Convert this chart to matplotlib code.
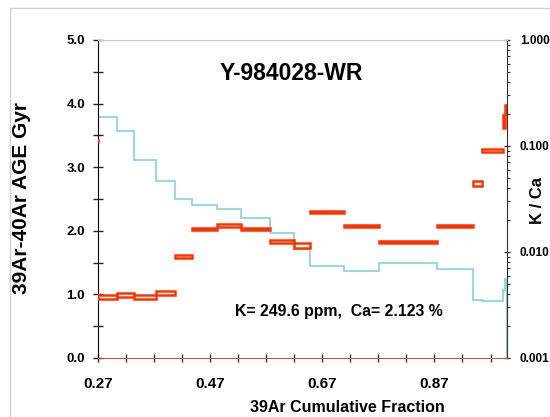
import matplotlib
matplotlib.use("Agg")
import matplotlib.pyplot as plt
from matplotlib.patches import Rectangle
from matplotlib.ticker import MultipleLocator, FixedLocator, LogLocator, NullFormatter
import numpy as np

plt.rcParams['font.family'] = ['Liberation Sans', 'DejaVu Sans']
plt.rcParams['font.weight'] = 'bold'

# step edges (39Ar cumulative fraction), first step is only partly inside the plot
frac_edges = [0.24, 0.270, 0.303, 0.334, 0.373, 0.407, 0.437, 0.482, 0.525, 0.577,
              0.619, 0.648, 0.709, 0.771, 0.874, 0.938, 0.955, 0.993, 0.996, 1.000]
ages = [3.41, 0.96, 0.99, 0.96, 1.02, 1.59, 2.03, 2.08, 2.03, 1.83,
        1.77, 2.30, 2.07, 1.82, 2.08, 2.75, 3.26, 3.72, 3.90]
age_err = [0.02, 0.025, 0.028, 0.025, 0.031, 0.022, 0.013, 0.019, 0.017, 0.025,
           0.033, 0.017, 0.017, 0.017, 0.017, 0.039, 0.025, 0.104, 0.070]
k_ca = [0.0005, 0.188, 0.139, 0.0745, 0.0465, 0.0316, 0.0275, 0.0252, 0.0209, 0.0151,
        0.0106, 0.00735, 0.00655, 0.00784, 0.00695, 0.00356, 0.00343, 0.00440, 0.00558]

title = "Y-984028-WR"
note = "K= 249.6 ppm,  Ca= 2.123 %"
x_ticklabels = [0.27, 0.47, 0.67, 0.87]

red = '#ff3300'
cyan = '#8fd4d9'

fig = plt.figure(figsize=(5.5, 4.17), dpi=100)
ax = fig.add_axes([0.1787, 0.1415, 0.9224 - 0.1787, 0.9041 - 0.1415])
ax2 = ax.twinx()

edges = np.array(frac_edges)
a = np.array(ages)
e = np.array(age_err)

# K/Ca on the log axis
ax2.stairs(k_ca, edges, baseline=1e-5, color=cyan, linewidth=1.3, zorder=1)
ax2.set_yscale('log')
ax2.set_ylim(0.001, 1.0)

# age steps as open boxes (age +/- error)
ax.bar(edges[:-1], 2 * e, width=np.diff(edges), bottom=a - e, align='edge',
       fill=False, edgecolor=red, linewidth=1.8, zorder=3)

ax.set_xlim(0.27, 1.0)
ax.set_ylim(0, 5.0)
ax.set_zorder(ax2.get_zorder() + 1)
ax.patch.set_visible(False)

# x ticks
ax.xaxis.set_major_locator(FixedLocator(x_ticklabels))
ax.set_xticklabels(['%.2f' % v for v in x_ticklabels])
ax.xaxis.set_minor_locator(FixedLocator(np.arange(0.27, 1.0, 0.05)))
ax.tick_params(axis='x', which='both', direction='inout', length=6, width=1,
               color='#333333', labelsize=11, pad=11)

# left y ticks
ax.yaxis.set_major_locator(MultipleLocator(1.0))
ax.yaxis.set_minor_locator(MultipleLocator(0.5))
ax.set_yticklabels(['%.1f' % v for v in ax.get_yticks()])
ax.tick_params(axis='y', which='both', direction='inout', length=7, width=1,
               color='#222222', labelsize=9.5, pad=6)

# right y ticks
ax2.set_yticks([0.001, 0.01, 0.1, 1.0])
ax2.set_yticklabels(['0.001', '0.010', '0.100', '1.000'])
ax2.yaxis.set_minor_locator(LogLocator(base=10, subs=np.arange(2, 10), numticks=10))
ax2.yaxis.set_minor_formatter(NullFormatter())
ax2.tick_params(axis='y', which='major', direction='inout', length=4, width=1,
                color='#333333', labelsize=8.5, pad=7)
ax2.tick_params(axis='y', which='minor', direction='out', length=2.5, width=0.8,
                color='#333333')
ax2.set_ylim(0.001, 1.0)

for s in ax2.spines.values():
    s.set_visible(False)
ax.spines['left'].set_color('black')
ax.spines['right'].set_color('#333333')
ax.spines['top'].set_color('#c8c8c8')
ax.spines['bottom'].set_color('#c05a40')

fig.text(22 / 550, 1 - 198 / 417, '39Ar-40Ar AGE Gyr', rotation=90,
         ha='center', va='center', fontsize=15, fontweight='bold')
fig.text(347 / 550, 1 - 408 / 417, '39Ar Cumulative Fraction',
         ha='center', va='center', fontsize=11.5, fontweight='bold')
fig.text(537 / 550, 1 - 200 / 417, 'K / Ca', rotation=90,
         ha='center', va='center', fontsize=12, fontweight='bold')

ax.text(0.472, 0.895, title, transform=ax.transAxes, ha='center', va='center',
        fontsize=16.5, fontweight='bold')
ax.text(0.5885, 0.146, note, transform=ax.transAxes, ha='center', va='center',
        fontsize=11.4, fontweight='bold')

# light chart-area border
fig.add_artist(Rectangle((10 / 550, -0.1), 2, 1 - 8 / 417 + 0.1,
                         transform=fig.transFigure, fill=False,
                         edgecolor='#d0d0d0', linewidth=1))

fig.savefig('out.png', dpi=100)
